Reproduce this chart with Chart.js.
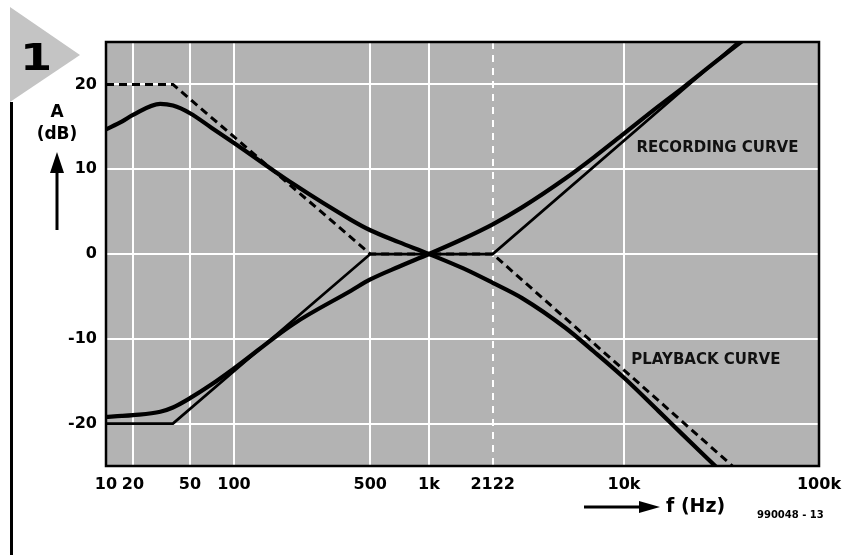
<!DOCTYPE html>
<html lang="en">
<head>
    <meta charset="UTF-8">
    <title>Recording / playback curve</title>
    <script src="https://cdn.jsdelivr.net/npm/chart.js"></script>
    <style>
        html, body { margin: 0; padding: 0; background: #fff; }
        #wrap { width: 844px; height: 555px; }
    </style>
</head>
<body>
    <div id="wrap"><canvas id="grafico" width="844" height="555"></canvas></div>

    <script>
        // frequency ticks (Hz) and their labels
        const xTickValues = [10, 20, 50, 100, 500, 1000, 2122, 10000, 100000];
        const xTickLabels = ['10', '20', '50', '100', '500', '1k', '2122', '10k', '100k'];
        const yTickValues = [-20, -10, 0, 10, 20];

        // playback curve (thick)
        const playFreq = [10, 15, 20, 31, 38, 50, 70, 100, 200, 400, 500, 700, 1000, 1500, 2122, 3000, 5000, 7000, 10000, 15000, 20000, 30000];
        const playDb   = [14.7, 15.6, 16.4, 17.7, 17.5, 16.6, 14.9, 13.1, 8.3, 4.0, 2.8, 1.4, 0, -1.7, -3.4, -5.2, -8.7, -11.5, -14.6, -18.5, -21.3, -25.2];

        // recording curve (thick)
        const recFreq = [10, 15, 20, 31, 38, 50, 70, 100, 200, 400, 500, 700, 1000, 1500, 2122, 3000, 5000, 7000, 10000, 15000, 20000, 30000, 42000];
        const recDb   = [-19.2, -19.1, -19.0, -18.6, -18.1, -17.0, -15.4, -13.5, -8.3, -4.3, -3.0, -1.5, 0, 1.8, 3.5, 5.5, 8.9, 11.4, 14.2, 17.4, 19.6, 22.8, 25.4];

        // straight-line approximations
        const recAsymFreq = [10, 38, 500, 2122, 38500];
        const recAsymDb   = [-20, -20, 0, 0, 25];
        const playAsymFreq = [10, 38, 500, 2122, 36000];
        const playAsymDb   = [20, 20, 0, 0, -25];

        const curveLabels = ['RECORDING CURVE', 'PLAYBACK CURVE'];
        const curveLabelFreq = [11600, 10900];
        const curveLabelDb = [12.5, -12.5];

        const pts = (fs, ds) => fs.map((f, i) => ({ x: f, y: ds[i] }));

        // the printed frequency axis is squeezed below 100 Hz, log above
        const stopFreq = [10, 20, 50, 100, 100000];
        const stopPos = [0, 27, 84, 128, 713].map(p => p / 713);

        class WarpedLogScale extends Chart.LogarithmicScale {
            static id = 'warpedLog';
            static defaults = Chart.LogarithmicScale.defaults;

            toDecimal(v) {
                const lv = Math.log10(v);
                let i = 0;
                while (i < stopFreq.length - 2 && lv > Math.log10(stopFreq[i + 1])) i++;
                const a = Math.log10(stopFreq[i]), b = Math.log10(stopFreq[i + 1]);
                return stopPos[i] + (lv - a) / (b - a) * (stopPos[i + 1] - stopPos[i]);
            }
            getPixelForValue(value) {
                if (value === null || value === undefined || isNaN(value) || value <= 0) return NaN;
                return this.getPixelForDecimal(this.toDecimal(value));
            }
            getValueForPixel(pixel) {
                const d = this.getDecimalForPixel(pixel);
                let i = 0;
                while (i < stopPos.length - 2 && d > stopPos[i + 1]) i++;
                const a = Math.log10(stopFreq[i]), b = Math.log10(stopFreq[i + 1]);
                return Math.pow(10, a + (d - stopPos[i]) / (stopPos[i + 1] - stopPos[i]) * (b - a));
            }
        }
        Chart.register(WarpedLogScale);

        const fonte = '"DejaVu Sans", Verdana, sans-serif';
        Chart.defaults.font.family = fonte;
        Chart.defaults.color = '#000';

        function arrow(ctx, x1, y1, x2, y2, head, half) {
            const ang = Math.atan2(y2 - y1, x2 - x1);
            const bx = x2 - head * Math.cos(ang), by = y2 - head * Math.sin(ang);
            ctx.beginPath();
            ctx.moveTo(x1, y1);
            ctx.lineTo(bx, by);
            ctx.stroke();
            ctx.beginPath();
            ctx.moveTo(x2, y2);
            ctx.lineTo(bx + half * Math.sin(ang), by - half * Math.cos(ang));
            ctx.lineTo(bx - half * Math.sin(ang), by + half * Math.cos(ang));
            ctx.closePath();
            ctx.fill();
        }

        const decor = {
            id: 'decor',
            beforeDraw(chart) {
                const { ctx, chartArea: a } = chart;
                ctx.save();
                ctx.fillStyle = '#b3b3b3';
                ctx.fillRect(a.left, a.top, a.right - a.left, a.bottom - a.top);
                ctx.restore();
            },
            afterDraw(chart) {
                const { ctx, chartArea: a, scales } = chart;
                ctx.save();
                ctx.strokeStyle = '#000';
                ctx.lineWidth = 2.5;
                ctx.strokeRect(a.left, a.top, a.right - a.left, a.bottom - a.top);

                // curve names
                ctx.fillStyle = '#111';
                ctx.font = 'bold 15px ' + fonte;
                ctx.textAlign = 'left';
                ctx.textBaseline = 'middle';
                curveLabels.forEach((t, i) => {
                    ctx.fillText(t, scales.x.getPixelForValue(curveLabelFreq[i]), scales.y.getPixelForValue(curveLabelDb[i]));
                });

                // figure number tab
                ctx.fillStyle = '#c4c4c4';
                ctx.beginPath();
                ctx.moveTo(10, 7);
                ctx.lineTo(80, 55);
                ctx.lineTo(10, 102);
                ctx.closePath();
                ctx.fill();
                ctx.fillStyle = '#000';
                ctx.fillRect(10, 102, 3, 453);
                ctx.save();
                ctx.translate(20, 70);
                ctx.scale(1.25, 1);
                ctx.font = 'bold 37px ' + fonte;
                ctx.textBaseline = 'alphabetic';
                ctx.fillText('1', 0, 0);
                ctx.restore();

                // axis titles
                ctx.textAlign = 'center';
                ctx.textBaseline = 'middle';
                ctx.font = 'bold 17px ' + fonte;
                ctx.fillText('A', 57, 113);
                ctx.fillText('(dB)', 57, 135);
                ctx.lineWidth = 3;
                arrow(ctx, 57, 230, 57, 152, 21, 7);
                arrow(ctx, 584, 507, 660, 507, 21, 6);
                ctx.textAlign = 'left';
                ctx.font = 'bold 19px ' + fonte;
                ctx.fillText('f (Hz)', 666, 507);
                ctx.font = 'bold 10px ' + fonte;
                ctx.fillText('990048 - 13', 757, 515);
                ctx.restore();
            }
        };

        new Chart(document.getElementById('grafico'), {
            type: 'line',
            data: {
                datasets: [
                    { data: pts(playAsymFreq, playAsymDb), borderColor: '#000', borderWidth: 3, borderDash: [8, 5], tension: 0, pointRadius: 0 },
                    { data: pts(recAsymFreq, recAsymDb), borderColor: '#000', borderWidth: 2.75, tension: 0, pointRadius: 0 },
                    { data: pts(playFreq, playDb), borderColor: '#000', borderWidth: 4.2, cubicInterpolationMode: 'monotone', pointRadius: 0 },
                    { data: pts(recFreq, recDb), borderColor: '#000', borderWidth: 4.2, cubicInterpolationMode: 'monotone', pointRadius: 0 }
                ]
            },
            options: {
                responsive: false,
                animation: false,
                events: [],
                layout: { padding: { left: 0, top: 42, right: 25, bottom: 0 } },
                plugins: { legend: { display: false }, tooltip: { enabled: false } },
                scales: {
                    x: {
                        type: 'warpedLog',
                        min: 10,
                        max: 100000,
                        afterBuildTicks: s => { s.ticks = xTickValues.map(v => ({ value: v })); },
                        afterFit: s => { s.height = 89; s.paddingLeft = 0; s.paddingRight = 0; },
                        grid: { color: '#fff', lineWidth: 2, drawTicks: false },
                        border: { display: false, dash: c => (c.tick && c.tick.value === 2122 ? [7, 6] : []) },
                        ticks: {
                            autoSkip: false, maxRotation: 0, padding: 9, color: '#000',
                            font: { size: 16, weight: 'bold' },
                            callback: (v, i) => xTickLabels[i]
                        }
                    },
                    y: {
                        min: -25,
                        max: 25,
                        afterBuildTicks: s => { s.ticks = yTickValues.map(v => ({ value: v })); },
                        afterFit: s => { s.width = 106; s.paddingTop = 0; s.paddingBottom = 0; },
                        grid: { color: '#fff', lineWidth: 2, drawTicks: false },
                        border: { display: false },
                        ticks: { padding: 9, color: '#000', font: { size: 16, weight: 'bold' } }
                    }
                }
            },
            plugins: [decor]
        });
    </script>
</body>
</html>
